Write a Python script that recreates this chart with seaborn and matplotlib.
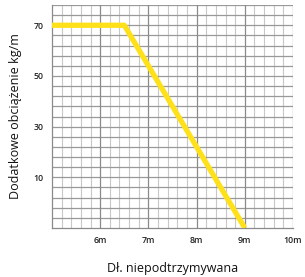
import matplotlib
matplotlib.use("Agg")
import matplotlib.pyplot as plt
import seaborn as sns
import numpy as np
import pandas as pd

length_m = [5.0, 6.5, 9.0]
load_kg_m = [70, 70, -10]
y_tick_values = [10, 30, 50, 70]
x_tick_values = [6, 7, 8, 9, 10]
x_tick_labels = ["6m", "7m", "8m", "9m", "10m"]

sns.set_style("white")
plt.rcParams['font.family'] = ['Open Sans', 'DejaVu Sans']

df = pd.DataFrame({"x": length_m, "y": load_kg_m})

fig = plt.figure(figsize=(3.05, 2.77), dpi=100)
ax = fig.add_axes([52/305, 49/277, 241/305, 223/277])

ax.set_xlim(5, 10)
ax.set_ylim(-10, 78)

# grid
for xv in np.arange(5.2, 10.0, 0.2):
    if abs(xv - round(xv)) > 1e-6:
        ax.axvline(xv, color="#c8c8c8", lw=0.8, zorder=0)
for xv in [6, 7, 8, 9, 10]:
    ax.axvline(xv, color="#8a8a8a", lw=0.9, zorder=0.5)
ax.set_yticks(np.arange(-10, 79, 4), minor=True)
for yv in np.arange(-6, 79, 4):
    ax.axhline(yv, color="#999999", lw=0.9, zorder=0.4)

sns.lineplot(data=df, x="x", y="y", ax=ax, color="#FFE11A", lw=3.8,
             solid_capstyle="butt", zorder=3)

ax.set_yticks(y_tick_values)
ax.set_yticklabels([str(v) for v in y_tick_values])
ax.set_xticks(x_tick_values)
ax.set_xticklabels(x_tick_labels)
ax.tick_params(axis="both", which="both", direction="out", length=3,
               color="#8a8a8a", width=0.9, labelsize=6.3, labelcolor="#222222", pad=3)
ax.tick_params(axis="y", which="minor", length=3)
ax.set_xticks([5], minor=True)
for lbl in ax.get_xticklabels() + ax.get_yticklabels():
    lbl.set_fontweight("semibold")

for s in ["top", "right"]:
    ax.spines[s].set_visible(False)
for s in ["left", "bottom"]:
    ax.spines[s].set_color("#8a8a8a")
    ax.spines[s].set_linewidth(0.9)

ax.set_xlabel("Dł. niepodtrzymywana", fontsize=9, color="#111111", labelpad=12)
ax.set_ylabel("Dodatkowe obciążenie kg/m", fontsize=9, color="#111111", labelpad=8)

fig.savefig("out.png", dpi=100)
